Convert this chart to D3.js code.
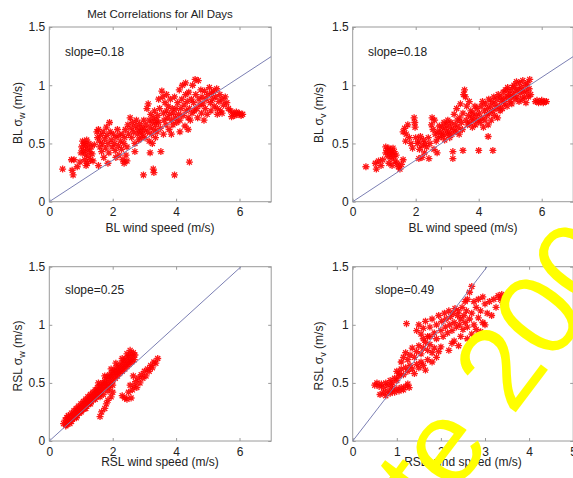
<!DOCTYPE html>
<html><head><meta charset="utf-8">
<script src="https://cdn.jsdelivr.net/npm/d3@7"></script>
<style>
html,body{margin:0;padding:0;background:#fff;}
svg{display:block;font-family:"Liberation Sans",Arial,sans-serif;}
</style></head>
<body>
<svg id="chart" width="573" height="478"></svg>
<script>
// ---------- DATA ----------
const chartTitle = "Met Correlations for All Days";
const panelNames = ["blW", "blV", "rslW", "rslV"];
const xLabels = ["BL wind speed (m/s)", "BL wind speed (m/s)", "RSL wind speed (m/s)", "RSL wind speed (m/s)"];
const yLabelPrefix = ["BL ", "BL ", "RSL ", "RSL "];
const yLabelSub = ["w", "v", "w", "v"];
const slopeLabels = ["slope=0.18", "slope=0.18", "slope=0.25", "slope=0.49"];
const fitSlopes = [0.178, 0.178, 0.248, 0.492];
const xMax = [7, 7, 7, 5];
const yMax = [1.5, 1.5, 1.5, 1.5];
const xTicks = [[0,2,4,6],[0,2,4,6],[0,2,4,6],[0,1,2,3,4,5]];
const yTicks = [0, 0.5, 1, 1.5];
const watermark = "te 2008";

const blW = [
[0.42,0.28],[0.7,0.36],[0.78,0.36],[0.72,0.27],[0.75,0.23],[0.97,0.34],[0.88,0.3],
[2.97,0.23],[3.28,0.28],[3.3,0.25],[3.95,0.23],[3.18,0.42],[3.52,0.43],[4.42,0.34],[2.36,0.33],[2.45,0.35],[2.1,0.38],[2.7,0.43],[1.85,0.33],[1.55,0.31],
[1.02,0.47],[1.05,0.52],[1.08,0.44],[1.1,0.5],[1.12,0.41],[1.15,0.48],[1.18,0.53],[1.2,0.45],[1.22,0.39],[1.25,0.5],[1.28,0.43],[1.3,0.36],[1.32,0.47],[1.35,0.41],[1.12,0.36],[1.2,0.33],[1.38,0.35],[1.42,0.49],[1.0,0.42],[1.16,0.31],
[1.5,0.6],[1.52,0.55],[1.55,0.62],[1.58,0.52],[1.6,0.47],[1.62,0.57],[1.65,0.43],[1.68,0.5],[1.7,0.6],[1.72,0.38],[1.75,0.54],[1.78,0.46],[1.8,0.64],[1.82,0.57],[1.85,0.5],[1.88,0.42],[1.9,0.68],[1.92,0.6],[1.95,0.53],[1.98,0.47],
[2.02,0.58],[2.05,0.5],[2.08,0.44],[2.1,0.55],[2.15,0.62],[2.18,0.48],[2.2,0.57],[2.25,0.52],[2.28,0.45],[2.3,0.58],[2.35,0.5],[2.38,0.55],[2.4,0.62],[2.45,0.47],[2.48,0.66],[2.5,0.58],[2.2,0.4],[2.42,0.4],[2.32,0.36],
[2.55,0.72],[2.58,0.63],[2.6,0.55],[2.62,0.68],[2.65,0.6],[2.7,0.5],[2.72,0.65],[2.75,0.7],[2.78,0.58],[2.8,0.62],[2.82,0.53],[2.85,0.67],[2.88,0.6],[2.9,0.55],[2.92,0.64],[2.95,0.58],[2.98,0.7],[3.0,0.62],
[3.02,0.55],[3.05,0.66],[3.08,0.8],[3.1,0.6],[3.12,0.84],[3.15,0.7],[3.18,0.64],[3.2,0.75],[3.22,0.58],[3.25,0.68],[3.28,0.72],[3.3,0.62],[3.32,0.78],[3.35,0.66],[3.38,0.7],[3.4,0.6],[3.42,0.74],[3.45,0.68],[3.48,0.8],[3.5,0.63],[3.15,0.52],[3.35,0.55],[3.25,0.5],
[3.55,0.95],[3.58,0.9],[3.6,0.76],[3.62,0.7],[3.65,0.85],[3.68,0.66],[3.7,0.78],[3.72,0.72],[3.75,0.82],[3.78,0.62],[3.8,0.75],[3.82,0.88],[3.85,0.7],[3.88,0.8],[3.9,0.66],[3.92,0.76],[3.95,0.9],[3.98,0.72],[4.0,0.8],[3.6,0.58],[3.85,0.58],[3.7,0.92],[3.45,0.88],
[4.02,0.68],[4.05,0.85],[4.08,0.75],[4.1,0.96],[4.12,0.7],[4.15,0.8],[4.18,0.88],[4.2,1.0],[4.22,0.74],[4.25,0.83],[4.28,0.65],[4.3,0.92],[4.32,0.78],[4.35,0.86],[4.38,0.72],[4.4,0.94],[4.42,0.8],[4.45,0.7],[4.48,0.88],[4.5,0.76],[4.3,1.02],[4.12,0.6],[4.38,0.62],
[4.52,1.0],[4.55,0.85],[4.58,0.78],[4.6,1.05],[4.62,0.92],[4.65,0.8],[4.68,0.72],[4.7,1.04],[4.72,0.88],[4.75,0.83],[4.78,0.96],[4.8,0.76],[4.82,0.9],[4.85,0.84],[4.88,0.7],[4.9,0.95],[4.92,0.8],[4.95,0.88],[4.98,0.75],[5.0,0.92],
[5.05,0.98],[5.08,0.85],[5.1,0.78],[5.12,0.93],[5.15,0.88],[5.18,0.95],[5.2,0.82],[5.25,0.9],[5.28,0.97],[5.3,0.8],[5.35,0.86],[5.38,0.92],[5.4,0.78],[5.45,0.88],[5.5,0.83],[5.55,0.9],[5.6,0.85],[5.3,0.75],[5.45,0.76],
[5.72,0.78],[5.8,0.76],[5.85,0.74],[5.9,0.77],[5.95,0.75],[6.0,0.76],[6.05,0.74],[6.1,0.75],[5.65,0.8],[5.75,0.73]
];

const blV = [
[0.42,0.3],[0.72,0.33],[0.75,0.28],[0.82,0.35],[0.95,0.36],[0.9,0.31],[1.05,0.42],[1.05,0.47],[1.1,0.44],[1.12,0.39],[1.15,0.46],[1.18,0.41],[1.2,0.44],[1.22,0.37],[1.25,0.42],[1.28,0.46],[1.3,0.39],[1.32,0.43],[1.35,0.35],[1.38,0.4],[1.4,0.33],[1.45,0.3],[1.5,0.28],[1.55,0.32],[1.6,0.36],[1.15,0.33],[1.25,0.31],
[1.6,0.6],[1.65,0.63],[1.7,0.58],[1.75,0.66],[1.8,0.55],[1.68,0.52],[1.85,0.5],[1.9,0.46],[1.95,0.72],[1.97,0.68],[1.98,0.64],[2.0,0.55],[2.05,0.5],[2.1,0.52],[2.12,0.45],[2.15,0.56],[2.2,0.48],[2.25,0.53],[2.28,0.42],[2.3,0.5],[2.35,0.47],[2.4,0.55],[2.42,0.37],[2.45,0.5],[2.5,0.66],[2.52,0.72],[2.55,0.62],[2.58,0.45],[2.6,0.7],[2.62,0.58],[2.65,0.52],[2.68,0.42],[2.7,0.6],[2.72,0.55],[2.75,0.65],[2.1,0.37],[2.2,0.38],
[2.8,0.6],[2.82,0.56],[2.85,0.64],[2.88,0.58],[2.9,0.68],[2.92,0.53],[2.95,0.62],[2.98,0.66],[3.0,0.58],[3.02,0.7],[3.05,0.6],[3.08,0.55],[3.1,0.64],[3.12,0.68],[3.15,0.58],[3.18,0.43],[3.2,0.62],[3.22,0.75],[3.25,0.66],[3.28,0.6],[3.3,0.8],[3.32,0.7],[3.35,0.64],[3.38,0.58],[3.4,0.72],[3.42,0.84],[3.45,0.68],[3.48,0.62],[3.5,0.44],[3.5,0.76],[3.18,0.37],
[3.52,0.92],[3.55,0.96],[3.58,0.9],[3.6,0.7],[3.62,0.82],[3.65,0.66],[3.68,0.74],[3.7,0.86],[3.72,0.68],[3.75,0.78],[3.78,0.72],[3.8,0.64],[3.82,0.76],[3.85,0.7],[3.88,0.82],[3.9,0.66],[3.92,0.74],[3.95,0.8],[3.98,0.7],[4.0,0.44],[4.02,0.76],[4.05,0.68],[4.08,0.82],[4.1,0.72],[4.12,0.86],[4.15,0.64],[4.18,0.78],[4.2,0.7],[4.22,0.84],[4.25,0.74],[4.28,0.8],[4.3,0.56],[4.3,0.66],[4.32,0.88],[4.35,0.76],[4.38,0.82],[4.4,0.7],[4.42,0.86],[4.45,0.44],[4.45,0.78],[4.48,0.9],[4.5,0.74],[4.52,0.84],[4.55,0.8],[4.58,0.88],[4.6,0.72],[4.62,0.92],[4.65,0.82],[4.68,0.78],[4.7,0.9],[4.72,0.86],[4.75,0.8],
[4.78,0.94],[4.8,0.88],[4.82,0.84],[4.85,0.96],[4.88,0.9],[4.9,0.82],[4.92,0.98],[4.95,0.92],[4.98,0.86],[5.0,0.95],[5.02,0.9],[5.05,0.84],[5.08,0.98],[5.1,0.92],[5.12,1.0],[5.15,0.88],[5.18,0.95],[5.2,1.03],[5.22,0.9],[5.25,0.97],[5.28,0.86],[5.3,1.02],[5.32,0.93],[5.35,0.98],[5.38,0.88],[5.4,1.04],[5.42,0.95],[5.45,0.9],[5.48,1.0],[5.5,0.85],[5.52,0.94],[5.55,1.02],[5.58,0.9],[5.6,0.97],[5.62,1.05],[5.65,0.92],
[5.8,0.86],[5.85,0.87],[5.9,0.85],[5.95,0.86],[6.0,0.87],[6.05,0.85],[6.1,0.86],[6.15,0.86]
];

const rslW = [
[0.45,0.15],[0.5,0.18],[0.52,0.13],[0.55,0.2],[0.58,0.16],[0.6,0.22],[0.62,0.18],[0.65,0.15],[0.68,0.21],[0.7,0.24],[0.72,0.19],[0.75,0.22],[0.78,0.26],[0.8,0.2],[0.82,0.24],[0.85,0.28],[0.88,0.22],[0.9,0.26],[0.92,0.3],[0.95,0.24],[0.98,0.28],[1.0,0.32],[1.02,0.26],[1.05,0.3],[1.08,0.34],[1.1,0.28],[1.12,0.32],[1.15,0.36],[1.18,0.3],[1.2,0.34],[1.22,0.38],[1.25,0.32],[1.28,0.36],[1.3,0.4],[1.32,0.34],[1.35,0.38],[1.38,0.42],[1.4,0.36],[1.42,0.4],[1.45,0.44],[1.48,0.38],[1.5,0.42],[1.52,0.46],[1.55,0.4],[1.58,0.44],[1.6,0.48],[1.62,0.42],[1.65,0.46],[1.68,0.5],[1.7,0.44],[1.72,0.48],[1.75,0.52],[1.78,0.46],[1.8,0.5],[1.82,0.55],[1.85,0.48],[1.88,0.53],[1.9,0.57],[1.92,0.5],[1.95,0.55],[1.98,0.59],[2.0,0.52],[2.02,0.57],[2.05,0.61],[2.08,0.54],[2.1,0.59],[2.12,0.63],[2.15,0.56],[2.18,0.6],[2.2,0.65],[2.22,0.58],[2.25,0.62],[2.28,0.67],[2.3,0.6],[2.32,0.64],[2.35,0.69],[2.38,0.62],[2.4,0.66],[2.42,0.71],[2.45,0.64],[2.48,0.68],[2.5,0.73],[2.52,0.66],[2.55,0.7],[2.58,0.75],[2.6,0.68],[2.62,0.72],[2.65,0.76],[2.68,0.7],[2.7,0.74],[1.6,0.38],[1.7,0.4],[1.9,0.46],[2.0,0.48],
[0.55,0.14],[0.7,0.17],[0.85,0.2],[1.0,0.25],[1.15,0.28],[1.3,0.32],[1.45,0.36],[1.55,0.5],[1.75,0.56],[1.95,0.62],[2.1,0.67],[2.3,0.71],[2.45,0.75],[2.55,0.78],[1.85,0.43],
[1.6,0.21],[1.65,0.25],[1.8,0.32],[1.85,0.35],[1.95,0.38],[2.0,0.42],[1.75,0.28],
[2.3,0.39],[2.38,0.37],[2.45,0.36],[2.5,0.42],[2.58,0.37],[2.62,0.44],[2.68,0.47],[2.72,0.51],[2.76,0.46],[2.8,0.54],[2.86,0.5],[2.9,0.57],[2.95,0.54],[3.0,0.6],[3.05,0.56],[3.1,0.62],[3.15,0.6],[3.2,0.65],[3.25,0.63],[3.3,0.68],[3.36,0.67],[3.42,0.71],[2.55,0.48],[2.65,0.56]
];

const rslV = [
[0.5,0.48],[0.55,0.5],[0.6,0.47],[0.65,0.49],[0.7,0.46],[0.75,0.5],[0.8,0.48],[0.62,0.4],[0.7,0.42],[0.75,0.39],[0.8,0.43],[0.85,0.41],[0.9,0.44],[0.95,0.42],[1.0,0.45],[1.05,0.43],[1.1,0.46],[1.15,0.44],[1.2,0.47],[1.25,0.49],[1.28,0.46],[0.85,0.52],[0.9,0.5],[0.95,0.54],[1.0,0.52],[1.05,0.56],[0.88,0.47],
[1.0,0.6],[1.05,0.58],[1.1,0.62],[1.15,0.57],[1.2,0.63],[1.25,0.6],[1.3,0.65],[1.35,0.62],[1.4,0.58],[1.45,0.66],[1.5,0.63],[1.55,0.68],[1.6,0.65],[1.65,0.61],[1.1,0.68],[1.15,0.72],[1.2,0.76],[1.25,0.7],[1.3,0.74],[1.35,0.8],[1.4,0.72],[1.45,0.77],[1.5,0.82],[1.55,0.75],[1.6,0.8],[1.65,0.85],[1.7,0.78],[1.75,0.83],[1.8,0.76],[1.85,0.8],[1.9,0.72],[1.95,0.77],[2.0,0.81],[1.7,0.7],[1.8,0.68],
[1.22,1.01],[1.45,0.95],[1.5,1.0],[1.55,0.92],[1.6,0.97],[1.65,1.03],[1.7,0.9],[1.75,0.98],[1.8,1.05],[1.85,0.93],[1.9,1.0],[1.95,1.08],[2.0,0.95],[2.02,1.03],[2.05,0.9],[2.08,1.1],[2.1,0.98],[2.12,1.05],[2.15,0.93],[2.18,1.12],[2.2,1.0],[2.22,1.07],[2.25,0.95],[2.28,1.1],[2.3,1.02],[2.32,1.14],[2.35,0.98],[2.38,1.08],[2.4,1.12],[2.42,1.0],[2.45,1.05],[2.48,1.15],[2.5,0.96],[2.52,1.08],[2.55,1.02],[2.58,1.12],[1.6,0.88],[1.75,0.9],[1.9,0.88],
[2.6,1.22],[2.65,1.28],[2.7,1.33],[2.55,1.2],
[2.6,0.98],[2.65,1.05],[2.7,1.1],[2.75,1.0],[2.8,1.15],[2.85,1.06],[2.9,1.12],[2.95,1.02],[3.0,1.18],[3.05,1.1],[3.1,1.2],[3.15,1.08],[3.2,1.22],[3.25,1.15],[3.3,1.25],[3.35,1.22],[3.38,1.26],[3.4,1.19],[2.7,0.92],[2.8,0.96],[2.9,0.94],[3.0,1.0],[2.6,0.88],[2.18,0.78],[2.3,0.86],[2.45,0.9],[2.75,1.2],[2.85,1.22],[2.95,1.24],[2.25,0.84],[2.4,0.82]
];

const panelData = [blW, blV, rslW, rslV];

// ---------- LAYOUT ----------
const panelBoxes = [
  {x0: 49.3, x1: 271.2, y0: 27, y1: 201.7},
  {x0: 352.7, x1: 573.2, y0: 27, y1: 201.7},
  {x0: 49.3, x1: 271.2, y0: 266.7, y1: 441},
  {x0: 352.7, x1: 573.2, y0: 266.7, y1: 441}
];
const yLabelPos = [[22,113],[323,113],[22,356],[323,356]];
const xLabelPos = [[160,232],[463,232],[160,466],[463,466]];
const slopePos = [[65,56],[368,56],[65,294],[375,294]];

const svg = d3.select("#chart");
const frameColor = "#9a9a9a";
const textColor = "#222";

svg.append("text").attr("x", 160).attr("y", 18).attr("text-anchor", "middle")
  .attr("font-size", 11.5).attr("fill", textColor).text(chartTitle);

const star = (r) => {
  const a = r * 0.72;
  return `M${-r},0H${r}M0,${-r}V${r}M${-a},${-a}L${a},${a}M${-a},${a}L${a},${-a}`;
};

panelNames.forEach((name, i) => {
  const b = panelBoxes[i];
  const x = d3.scaleLinear().domain([0, xMax[i]]).range([b.x0, b.x1]);
  const y = d3.scaleLinear().domain([0, yMax[i]]).range([b.y1, b.y0]);
  const g = svg.append("g").attr("class", name);

  const clipId = "clip" + i;
  svg.append("clipPath").attr("id", clipId).append("rect")
    .attr("x", b.x0).attr("y", b.y0).attr("width", b.x1 - b.x0).attr("height", b.y1 - b.y0);

  g.append("rect").attr("x", b.x0).attr("y", b.y0).attr("width", b.x1 - b.x0).attr("height", b.y1 - b.y0)
    .attr("fill", "none").attr("stroke", frameColor).attr("stroke-width", 1);

  const axB = d3.axisBottom(x).tickValues(xTicks[i]).tickSize(-3).tickPadding(6).tickFormat(d3.format("~g"));
  const axL = d3.axisLeft(y).tickValues(yTicks).tickSize(-3).tickPadding(4).tickFormat(d3.format("~g"));
  const axT = d3.axisTop(x).tickValues(xTicks[i]).tickSize(-3).tickFormat("");
  const axR = d3.axisRight(y).tickValues(yTicks).tickSize(-3).tickFormat("");
  const styleAx = (sel) => {
    sel.select(".domain").remove();
    sel.selectAll(".tick line").attr("stroke", frameColor);
    sel.selectAll(".tick text").attr("fill", textColor).attr("font-size", 12)
      .attr("font-family", '"Liberation Sans", Arial, sans-serif');
  };
  g.append("g").attr("transform", `translate(0,${b.y1})`).call(axB).call(styleAx);
  g.append("g").attr("transform", `translate(${b.x0},0)`).call(axL).call(styleAx);
  g.append("g").attr("transform", `translate(0,${b.y0})`).call(axT).call(styleAx);
  g.append("g").attr("transform", `translate(${b.x1},0)`).call(axR).call(styleAx);

  const plot = g.append("g").attr("clip-path", `url(#${clipId})`);

  plot.selectAll("path.pt").data(panelData[i]).join("path")
    .attr("class", "pt")
    .attr("transform", d => `translate(${x(d[0])},${y(d[1])})`)
    .attr("d", star(3.5))
    .attr("fill", "none").attr("stroke", "#f00").attr("stroke-width", 1.3).attr("opacity", 0.9);

  const s = fitSlopes[i];
  const xe = Math.min(xMax[i], yMax[i] / s);
  plot.append("line")
    .attr("x1", x(0)).attr("y1", y(0)).attr("x2", x(xe)).attr("y2", y(s * xe))
    .attr("stroke", "#7b7fb3").attr("stroke-width", 1);

  g.append("text").attr("x", slopePos[i][0]).attr("y", slopePos[i][1])
    .attr("font-size", 12).attr("fill", textColor).text(slopeLabels[i]);

  g.append("text").attr("x", xLabelPos[i][0]).attr("y", xLabelPos[i][1]).attr("text-anchor", "middle")
    .attr("font-size", 12).attr("fill", textColor).text(xLabels[i]);

  const yl = g.append("text")
    .attr("transform", `translate(${yLabelPos[i][0]},${yLabelPos[i][1]}) rotate(-90)`)
    .attr("text-anchor", "middle").attr("font-size", 12).attr("fill", textColor);
  yl.append("tspan").text(yLabelPrefix[i] + "\u03C3");
  yl.append("tspan").attr("font-size", 9).attr("dy", 3).text(yLabelSub[i]);
  yl.append("tspan").attr("dy", -3).text(" (m/s)");
});

// watermark
svg.append("text")
  .attr("transform", "translate(434,521) rotate(-53)")
  .attr("font-size", 117).attr("fill", "#ffff00")
  .attr("font-family", '"Liberation Sans", Arial, sans-serif')
  .text(watermark);
</script>
</body></html>
